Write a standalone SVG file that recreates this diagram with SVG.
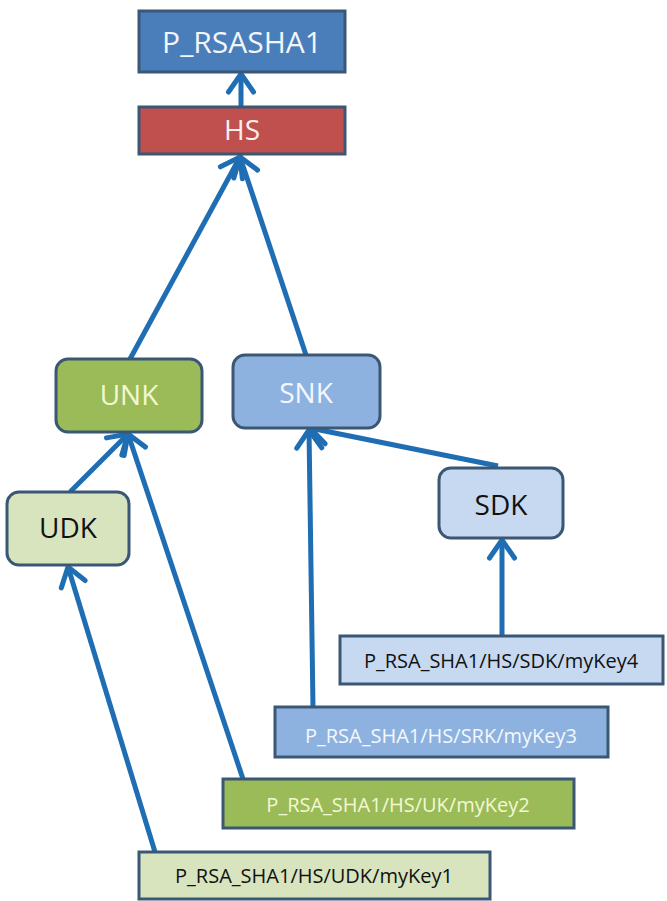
<svg xmlns="http://www.w3.org/2000/svg" width="667" height="901" viewBox="0 0 667 901">
<style>
.box{stroke:#3A5775;stroke-width:3}
.t{font-family:"Open Sans","Liberation Sans",sans-serif;text-anchor:middle}
.big{font-size:30px}
.mid{font-size:28px}
.sm{font-size:20px}
.conn{stroke:#1F6DB3;stroke-width:5;fill:none;marker-end:url(#arr)}
</style>
<defs>
<marker id="arr" markerUnits="userSpaceOnUse" markerWidth="34" markerHeight="34" viewBox="0 0 34 34" refX="26" refY="17" orient="auto">
<path d="M8,4.5 L26,17 L8,29.5" fill="none" stroke="#1F6DB3" stroke-width="5" stroke-linejoin="miter" stroke-linecap="round"/>
</marker>
</defs>
<rect width="667" height="901" fill="#ffffff"/>
<g id="connectors">
<line class="conn" x1="241" y1="107" x2="241" y2="74"/>
<line class="conn" x1="130" y1="359" x2="240" y2="157"/>
<line class="conn" x1="306" y1="355" x2="240" y2="157"/>
<line class="conn" x1="70" y1="492" x2="128" y2="434"/>
<line class="conn" x1="243" y1="779" x2="128" y2="434"/>
<line class="conn" x1="313" y1="707" x2="309" y2="430"/>
<line class="conn" x1="498" y1="466" x2="310" y2="428"/>
<line class="conn" x1="502" y1="637" x2="502" y2="540"/>
<line class="conn" x1="155" y1="852" x2="68" y2="567"/>
</g>
<g id="p_rsasha1">
<rect class="box" x="139" y="11" width="206" height="61" fill="#4A7EBB"/>
<text class="t big" x="242" y="53" fill="#F2F5FA">P_RSASHA1</text>
</g>
<g id="hs">
<rect class="box" x="139" y="107" width="206" height="47" fill="#C0504D"/>
<text class="t mid" x="242" y="140" fill="#FBEFEF">HS</text>
</g>
<g id="unk">
<rect class="box" x="56" y="359" width="146" height="73" rx="12" fill="#9BBB59"/>
<text class="t mid" x="129" y="405" fill="#F3F8D2">UNK</text>
</g>
<g id="snk">
<rect class="box" x="233" y="355" width="147" height="73" rx="12" fill="#8EB2E0"/>
<text class="t mid" x="306" y="403" fill="#F4F8FD">SNK</text>
</g>
<g id="udk">
<rect class="box" x="7" y="492" width="122" height="73" rx="12" fill="#D7E4BD"/>
<text class="t mid" x="68" y="538" fill="#111111">UDK</text>
</g>
<g id="sdk">
<rect class="box" x="439" y="468" width="124" height="70" rx="12" fill="#C6D9F1"/>
<text class="t mid" x="501" y="515" fill="#111111">SDK</text>
</g>
<g id="mykey4">
<rect class="box" x="340" y="636" width="323" height="48" fill="#C6D9F1"/>
<text class="t sm" x="501" y="668" fill="#111111">P_RSA_SHA1/HS/SDK/myKey4</text>
</g>
<g id="mykey3">
<rect class="box" x="275" y="707" width="333" height="50" fill="#8EB2E0"/>
<text class="t sm" x="441" y="743" fill="#F4F8FD">P_RSA_SHA1/HS/SRK/myKey3</text>
</g>
<g id="mykey2">
<rect class="box" x="223" y="779" width="351" height="49" fill="#9BBB59"/>
<text class="t sm" x="398" y="812" fill="#F3F8D2">P_RSA_SHA1/HS/UK/myKey2</text>
</g>
<g id="mykey1">
<rect class="box" x="139" y="852" width="351" height="47" fill="#D7E4BD"/>
<text class="t sm" x="314" y="883" fill="#111111">P_RSA_SHA1/HS/UDK/myKey1</text>
</g>
</svg>
